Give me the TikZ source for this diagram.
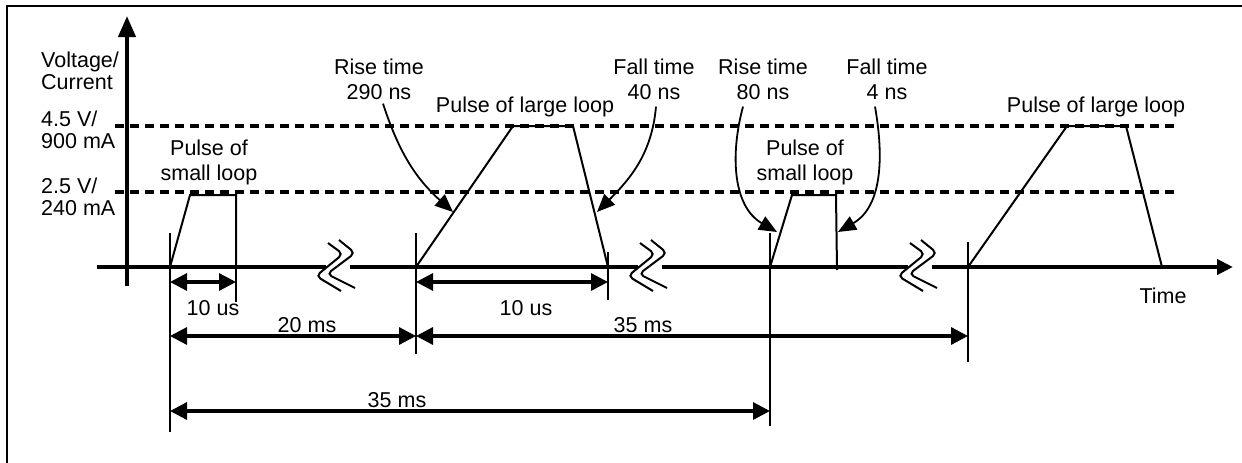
\documentclass[tikz,border=0pt]{standalone}
\usepackage{fontspec}
\setmainfont{Liberation Sans}
\usetikzlibrary{arrows.meta}
\tikzstyle{lbl}=[inner sep=0pt,align=center,font=\fontsize{21.5}{25}\selectfont]
\tikzstyle{lvllbl}=[inner sep=0pt,align=left,anchor=west,font=\fontsize{21.5}{22}\selectfont]
\tikzstyle{axis}=[line width=4pt]
\tikzstyle{level}=[line width=3.2pt,dash pattern=on 9pt off 6pt]
\tikzstyle{pulse}=[line width=2pt]
\tikzstyle{tick}=[line width=1.6pt]
\tikzstyle{dim}=[{Triangle[length=17pt,width=17pt]}-{Triangle[length=17pt,width=17pt]},line width=3.2pt]
\tikzstyle{note}=[-{Triangle[length=18pt,width=15pt]},line width=1.8pt]
\tikzstyle{brkline}=[line width=2pt,rounded corners=5pt]
\newcommand{\axisbreak}[1]{%
\draw[brkline] (#1+13,-243) -- (#1+28,-254) -- (#1+1,-276) -- (#1+26,-291);
\draw[brkline] (#1+24,-240) -- (#1+40,-253) -- (#1+12,-274) -- (#1+40,-288);}

\begin{document}
\begin{tikzpicture}[x=1pt,y=1pt]
\useasboundingbox (0,0) rectangle (1242,-463);
\draw[line width=2pt] (7,-463) -- (7,-6) -- (1242,-6);
% axes
\coordinate (yb) at (127,-286); \coordinate (yt) at (127,-16);
\coordinate (ta0) at (97,-267); \coordinate (ta1) at (326,-267);
\coordinate (ta2) at (350,-267); \coordinate (ta3) at (638,-267);
\coordinate (ta4) at (662,-267); \coordinate (ta5) at (908,-267);
\coordinate (ta6) at (932,-267); \coordinate (ta7) at (1233,-267);
\draw[axis,-{Triangle[length=21pt,width=17pt]}] (yb) -- (yt);
\draw[axis] (ta0) -- (ta1); \draw[axis] (ta2) -- (ta3); \draw[axis] (ta4) -- (ta5);
\draw[axis,-{Triangle[length=16pt,width=15pt]}] (ta6) -- (ta7);
\axisbreak{315} \axisbreak{627} \axisbreak{897}
% levels
\coordinate (hiL) at (115,-126); \coordinate (hiR) at (1175,-126);
\coordinate (loL) at (115,-192); \coordinate (loR) at (1175,-192);
\draw[level] (hiL) -- (hiR); \draw[level] (loL) -- (loR);
\node[lvllbl] (ylab) at (41,-71) {Voltage/\\Current};
\node[lvllbl] (hilab) at (41,-130) {4.5 V/\\900 mA};
\node[lvllbl] (lolab) at (41,-197) {2.5 V/\\240 mA};
% pulses
\coordinate (sa0) at (170,-267); \coordinate (sa1) at (190,-195);
\coordinate (sa2) at (236,-195); \coordinate (sa3) at (236,-267);
\coordinate (la0) at (416,-267); \coordinate (la1) at (513,-126);
\coordinate (la2) at (573,-126); \coordinate (la3) at (608,-267);
\coordinate (sb0) at (770,-267); \coordinate (sb1) at (792,-195);
\coordinate (sb2) at (836,-195); \coordinate (sb3) at (837,-270);
\coordinate (lb0) at (968,-267); \coordinate (lb1) at (1067,-126);
\coordinate (lb2) at (1126,-126); \coordinate (lb3) at (1162,-267);
\draw[pulse] (sa0) -- (sa1) -- (sa2) -- (sa3);
\draw[pulse] (la0) -- (la1) -- (la2) -- (la3);
\draw[pulse] (sb0) -- (sb1) -- (sb2) -- (sb3);
\draw[pulse] (lb0) -- (lb1) -- (lb2) -- (lb3);
\node[lbl] (psa) at (209,-162) {Pulse of\\small loop};
\node[lbl] (pla) at (525,-107) {Pulse of large loop};
\node[lbl] (psb) at (805,-162) {Pulse of\\small loop};
\node[lbl] (plb) at (1096,-107) {Pulse of large loop};
% rise and fall times
\node[lbl] (rt1) at (379,-79) {Rise time\\290 ns};
\node[lbl] (ft1) at (654,-79) {Fall time\\40 ns};
\node[lbl] (rt2) at (763,-79) {Rise time\\80 ns};
\node[lbl] (ft2) at (887,-79) {Fall time\\4 ns};
\coordinate (rt1tip) at (453,-212); \coordinate (ft1tip) at (597,-212);
\coordinate (rt2tip) at (777,-232); \coordinate (ft2tip) at (838,-232);
\draw[note] ([xshift=4pt,yshift=-4pt]rt1.south) to[out=-72,in=138] (rt1tip);
\draw[note] ([xshift=2pt,yshift=-7pt]ft1.south) to[out=-95,in=45] (ft1tip);
\draw[note] ([xshift=-20pt,yshift=-7pt]rt2.south) to[out=-105,in=150] (rt2tip);
\draw[note] ([xshift=-12pt,yshift=-7pt]ft2.south) to[out=-80,in=30] (ft2tip);
% ticks
\coordinate (k1a) at (170,-233); \coordinate (k1b) at (170,-432);
\coordinate (k2b) at (236,-302);
\coordinate (k3a) at (416,-233); \coordinate (k3b) at (416,-354);
\coordinate (k4a) at (608,-252); \coordinate (k4b) at (608,-300);
\coordinate (k5a) at (770,-233); \coordinate (k5b) at (770,-426);
\coordinate (k6a) at (968,-242); \coordinate (k6b) at (968,-362);
\draw[tick] (k1a) -- (k1b); \draw[tick] (sa3) -- (k2b); \draw[tick] (k3a) -- (k3b);
\draw[tick] (k4a) -- (k4b); \draw[tick] (k5a) -- (k5b); \draw[tick] (k6a) -- (k6b);
% intervals
\coordinate (d1a) at (170,-282); \coordinate (d1b) at (236,-282);
\coordinate (d2a) at (416,-282); \coordinate (d2b) at (608,-282);
\coordinate (d3a) at (170,-336); \coordinate (d3b) at (416,-336);
\coordinate (d4a) at (416,-336); \coordinate (d4b) at (968,-336);
\coordinate (d5a) at (170,-411); \coordinate (d5b) at (770,-411);
\draw[dim] (d1a) -- (d1b); \draw[dim] (d2a) -- (d2b); \draw[dim] (d3a) -- (d3b);
\draw[dim] (d4a) -- (d4b); \draw[dim] (d5a) -- (d5b);
\node[lbl] (us1) at (213,-308) {10 us};
\node[lbl] (us2) at (526,-308) {10 us};
\node[lbl] (ms20) at (307,-325) {20 ms};
\node[lbl] (ms35a) at (643,-325) {35 ms};
\node[lbl] (ms35b) at (397,-400) {35 ms};
\node[lbl] (time) at (1163,-296) {Time};
\end{tikzpicture}
\end{document}
